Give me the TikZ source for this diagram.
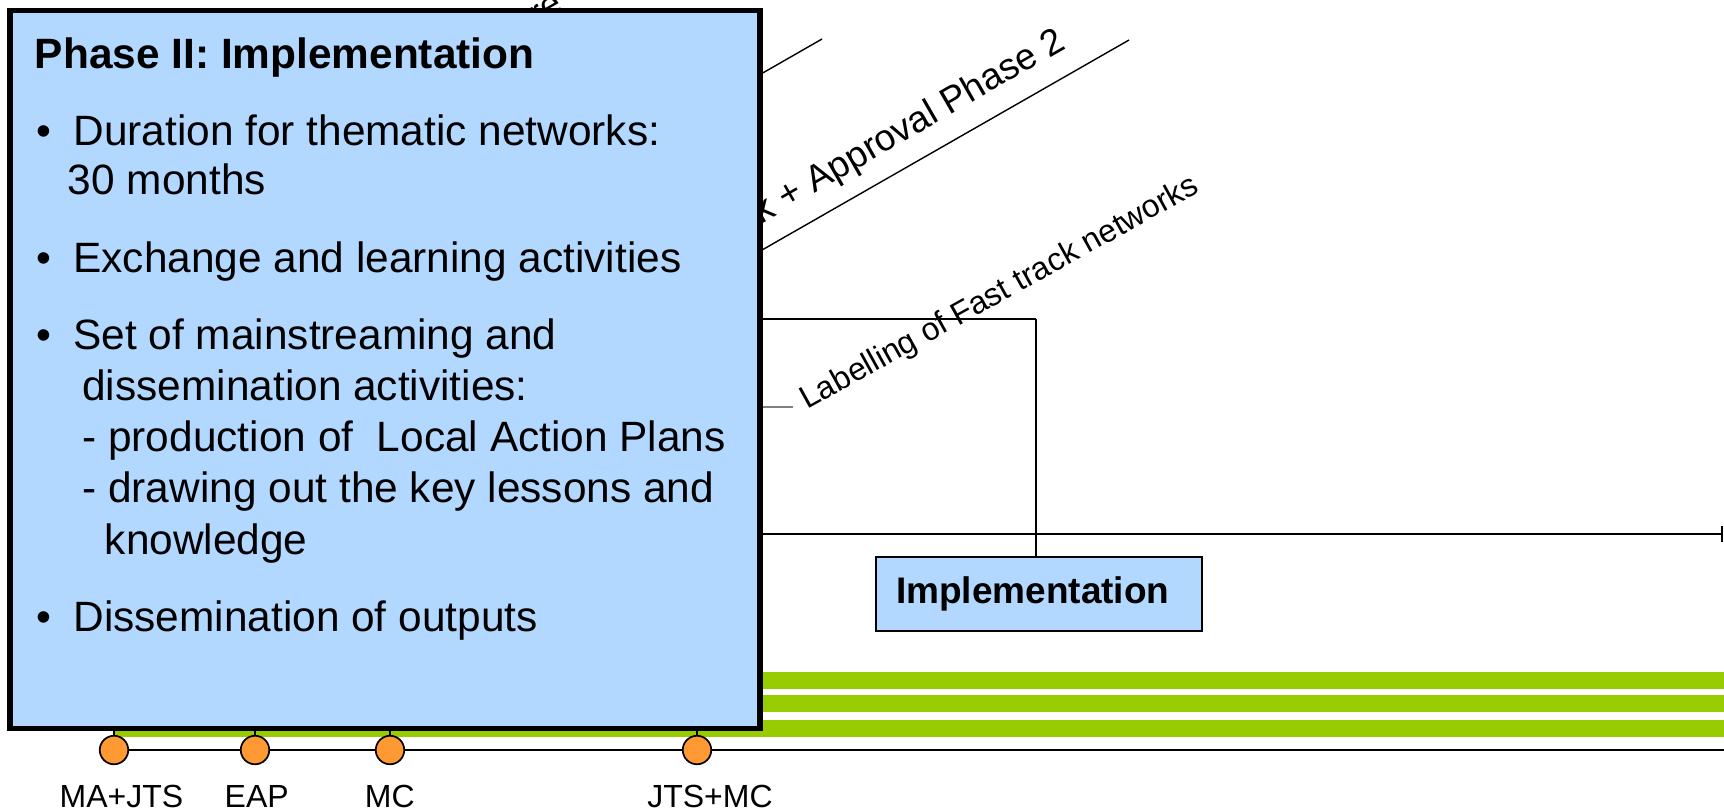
\documentclass[tikz,border=0pt]{standalone}
\usepackage{fontspec}
\setmainfont{Liberation Sans}
\usetikzlibrary{arrows.meta}
\definecolor{boxblue}{RGB}{178,216,255}
\definecolor{bargreen}{RGB}{153,204,0}
\definecolor{msorange}{RGB}{255,153,51}
\definecolor{rulegray}{RGB}{128,128,128}
\begin{document}
\begin{tikzpicture}[x=0.5pt,y=-0.5pt,
  mainbox/.style={draw=black, line width=2.75pt, fill=boxblue, inner sep=0pt},
  bodytext/.style={anchor=base west, inner sep=0pt, font=\fontsize{21.2}{25}\selectfont},
  titletext/.style={anchor=base west, inner sep=0pt, font=\fontsize{21.2}{25}\selectfont\bfseries},
  implbox/.style={draw=black, line width=0.6pt, fill=boxblue, font=\fontsize{18.5}{22}\selectfont\bfseries, text width=143pt, align=left, inner xsep=10pt, inner ysep=0pt, minimum height=37pt},
  slanttext/.style={inner sep=0pt},
  diagline/.style={draw=black, line width=0.7pt},
  msdot/.style={circle, draw=black, line width=0.85pt, fill=msorange, minimum size=14.25pt, inner sep=0pt},
  mslabel/.style={anchor=base, inner sep=0pt, font=\fontsize{16}{19}\selectfont},
  bar/.style={fill=bargreen}
]
\useasboundingbox (0,0) rectangle (1724,811);

% green bars
\fill[bar] (114,672) rectangle (1724,689);
\fill[bar] (114,695) rectangle (1724,712);
\fill[bar] (114,720) rectangle (1724,737);

% timeline
\coordinate (c1) at (114,750);
\coordinate (c2) at (255,750);
\coordinate (c3) at (390,750);
\coordinate (c4) at (697,750);
\coordinate (tlend) at (1724,750);
\draw[line width=0.9pt] (c1) -- (tlend);
\foreach \c in {c1,c2,c3,c4} \draw[line width=0.75pt] (\c) -- ++(0,-60);

% diagonal lines and their (partly hidden) labels
\coordinate (d1s) at (740,86);
\coordinate (d1e) at (822,39);
\draw[diagline] (d1s) -- (d1e);
\coordinate (d2s) at (740,262.6);
\coordinate (d2e) at (1129,40);
\draw[diagline] (d2s) -- (d2e);
\node[slanttext, anchor=base east, rotate=30, font=\fontsize{18.5}{22}\selectfont] (appr) at (1067.5,47.5) {k + Approval Phase 2};
\node[slanttext, anchor=base west, rotate=30, font=\fontsize{18}{22}\selectfont] (retext) at (537,27) {re};

% main box
\node[mainbox, minimum width=375pt, minimum height=359pt] (phase) at (385,369.5) {};
\node[titletext] (title) at (34.5,68) {Phase II: Implementation};
\node[bodytext] (b1) at (36,145) {•};
\node[bodytext] (t1) at (73,145) {Duration for thematic networks:};
\node[bodytext] (t1b) at (67.5,194) {30 months};
\node[bodytext] (b2) at (36,272) {•};
\node[bodytext] (t2) at (73,272) {Exchange and learning activities};
\node[bodytext] (b3) at (36,349) {•};
\node[bodytext] (t3) at (73,349) {Set of mainstreaming and};
\node[bodytext] (t3b) at (82,400) {dissemination activities:};
\node[bodytext] (t3c) at (82,451.5) {- production of~ Local Action Plans};
\node[bodytext] (t3d) at (82,502) {- drawing out the key lessons and};
\node[bodytext] (t3e) at (104.5,554) {knowledge};
\node[bodytext] (b4) at (36,631) {•};
\node[bodytext] (t4) at (73,631) {Dissemination of outputs};

% implementation box
\node[implbox] (impl) at (1039,594) {Implementation};

% connectors
\coordinate (h1) at (1036,319);
\draw[line width=1.3pt] (phase.east |- h1) -- (h1);
\draw[line width=1pt] (h1) -- (impl.north -| h1);
\coordinate (arrowend) at (1722.5,534);
\draw[line width=1.3pt, -{Bar[width=8pt,line width=1pt]}] (phase.east |- arrowend) -- (arrowend);
\coordinate (grayend) at (793,407);
\draw[rulegray, line width=0.7pt] (phase.east |- grayend) -- (grayend);

% labelling text
\node[slanttext, anchor=base west, rotate=29, font=\fontsize{16}{19}\selectfont] (label) at (807,410) {Labelling of Fast track networks};

% milestones
\node[msdot] (ms1) at (c1) {};
\node[msdot] (ms2) at (c2) {};
\node[msdot] (ms3) at (c3) {};
\node[msdot] (ms4) at (c4) {};
\node[mslabel] (l1) at (121.5,807) {MA+JTS};
\node[mslabel] (l2) at (256.7,807) {EAP};
\node[mslabel] (l3) at (389.8,807) {MC};
\node[mslabel] (l4) at (710,807) {JTS+MC};
\end{tikzpicture}
\end{document}
